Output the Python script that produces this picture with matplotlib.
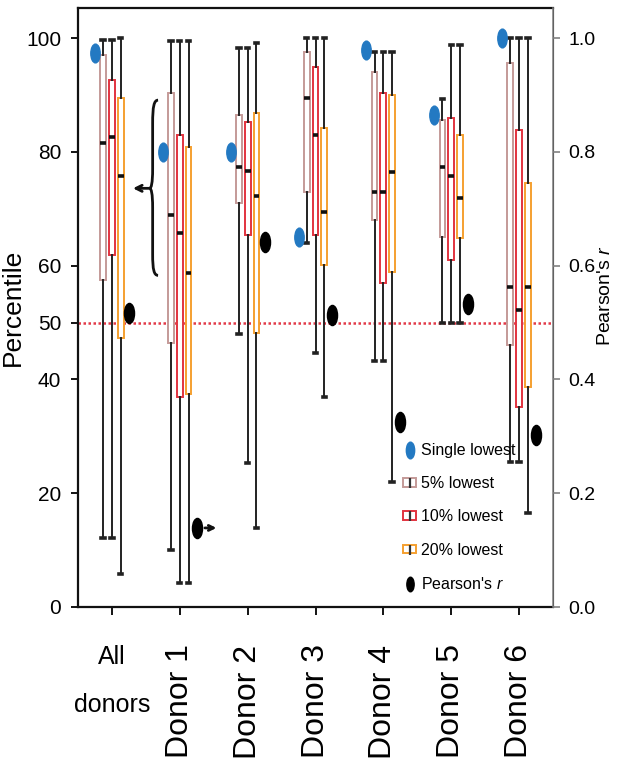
import numpy as np
import matplotlib
matplotlib.use("Agg")
import matplotlib.pyplot as plt
from matplotlib import font_manager
from matplotlib.path import Path
from matplotlib.patches import PathPatch, Patch
from matplotlib.lines import Line2D

# ---------------- data ----------------
groups = ["All\ndonors", "Donor 1", "Donor 2", "Donor 3", "Donor 4", "Donor 5", "Donor 6"]
single_lowest = [97.4, 80.0, 80.0, 65.0, 97.9, 86.5, 100.0]
pearson_r = [0.517, 0.139, 0.641, 0.513, 0.325, 0.533, 0.302]

p5_med = [81.5, 68.9, 77.3, 89.5, 72.9, 77.3, 56.2]
p5_q1 = [57.5, 46.4, 71.0, 72.9, 68.0, 65.0, 46.0]
p5_q3 = [97.0, 90.3, 86.5, 97.5, 94.0, 85.6, 95.6]
p5_lo = [12.1, 10.0, 48.0, 64.0, 43.2, 50.0, 25.5]
p5_hi = [99.6, 99.5, 98.2, 100.0, 97.5, 89.3, 100.0]

p10_med = [82.7, 65.7, 76.6, 83.0, 72.9, 75.8, 52.2]
p10_q1 = [61.9, 36.9, 65.4, 65.4, 56.9, 61.0, 35.1]
p10_q3 = [92.6, 83.0, 85.3, 94.9, 90.3, 85.9, 83.8]
p10_lo = [12.1, 4.2, 25.3, 44.6, 43.2, 50.0, 25.5]
p10_hi = [99.6, 99.5, 98.2, 100.0, 97.5, 98.8, 100.0]

p20_med = [75.8, 58.7, 72.2, 69.4, 76.5, 71.9, 56.2]
p20_q1 = [47.3, 37.4, 48.2, 60.1, 58.9, 64.8, 38.7]
p20_q3 = [89.4, 80.8, 86.8, 84.2, 90.0, 83.0, 74.5]
p20_lo = [5.8, 4.2, 13.9, 36.9, 22.0, 50.0, 16.5]
p20_hi = [100.0, 99.5, 99.1, 100.0, 97.5, 98.8, 100.0]

series_labels = ["5% lowest", "10% lowest", "20% lowest"]
y_ticks = [0, 20, 40, 50, 60, 80, 100]
r_ticks = [0.0, 0.2, 0.4, 0.6, 0.8, 1.0]
reference_line = 50

# ---------------- style ----------------
names = {f.name for f in font_manager.fontManager.ttflist}
fam = "Liberation Sans Narrow" if "Liberation Sans Narrow" in names else "Liberation Sans"
plt.rcParams["font.family"] = [fam, "DejaVu Sans"]
plt.rcParams["mathtext.fontset"] = "custom"
plt.rcParams["mathtext.rm"] = fam
plt.rcParams["mathtext.it"] = fam + ":italic"

c_blue = "#2379c2"
box_colors = ["#c49a98", "#e2333f", "#f5a030"]
c_red_line = "#e23a48"

circ = Path.unit_circle()
ellipse = Path(circ.vertices * np.array([0.5, 1.0]), circ.codes)

fig = plt.figure(figsize=(6.18, 7.68), dpi=100)
ax = fig.add_axes([78 / 618, 1 - 607 / 768, 475 / 618, 599 / 768])

pos = np.arange(len(groups))
ax.set_xlim(-0.5, 6.5)
ax.set_ylim(0, 105.3)

ax.axhline(reference_line, color=c_red_line, linestyle=(0, (1, 1)), lw=1.8, zorder=1)

series = [
    (p5_med, p5_q1, p5_q3, p5_lo, p5_hi),
    (p10_med, p10_q1, p10_q3, p10_lo, p10_hi),
    (p20_med, p20_q1, p20_q3, p20_lo, p20_hi),
]
offsets = [-0.13, 0.0, 0.13]
for (med, q1, q3, lo, hi), off, col in zip(series, offsets, box_colors):
    stats = [dict(med=m, q1=a, q3=b, whislo=l, whishi=h, fliers=[])
             for m, a, b, l, h in zip(med, q1, q3, lo, hi)]
    ax.bxp(stats, positions=pos + off, widths=0.085, showfliers=False,
           patch_artist=True, manage_ticks=False,
           boxprops=dict(facecolor="white", edgecolor=col, linewidth=1.4),
           whiskerprops=dict(color="#222222", lw=1.4),
           capprops=dict(color="#222222", lw=2.6),
           medianprops=dict(color="#111111", lw=2.6, solid_capstyle="butt"),
           capwidths=0.05, zorder=3)

ax.plot(pos - 0.25, single_lowest, linestyle="none", marker=ellipse,
        markersize=13.5, color=c_blue, zorder=4)

# brace + arrow annotation beside Donor 1
bx0, bx1, btip = 0.68, 0.60, 0.555
ytop, ymid, ybot = 89.1, 73.6, 58.3
verts = [(bx0, ytop), (0.62, ytop), (bx1, ytop - 1.1), (bx1, ytop - 4.1),
         (bx1, ymid + 3.4),
         (bx1, ymid + 0.9), (0.58, ymid), (btip, ymid),
         (0.58, ymid), (bx1, ymid - 0.9), (bx1, ymid - 3.4),
         (bx1, ybot + 3.7),
         (bx1, ybot + 1.0), (0.62, ybot), (bx0, ybot)]
codes = [Path.MOVETO, Path.CURVE4, Path.CURVE4, Path.CURVE4, Path.LINETO,
         Path.CURVE4, Path.CURVE4, Path.CURVE4,
         Path.CURVE4, Path.CURVE4, Path.CURVE4, Path.LINETO,
         Path.CURVE4, Path.CURVE4, Path.CURVE4]
ax.add_patch(PathPatch(Path(verts, codes), facecolor="none", edgecolor="#111111", lw=2.0, zorder=5))
ax.annotate("", xy=(0.31, ymid), xytext=(btip, ymid),
            arrowprops=dict(arrowstyle="->", lw=2.0, color="#111111",
                            mutation_scale=11, shrinkA=0, shrinkB=0), zorder=5)

ax.set_yticks(y_ticks)
ax.set_xticks(pos)
ax.set_xticklabels(groups)
for i, lab in enumerate(ax.get_xticklabels()):
    lab.set_va("top")
    lab.set_ha("center")
    if i == 0:
        lab.set_fontsize(18)
        lab.set_rotation(0)
        lab.set_multialignment("center")
        lab.set_linespacing(2.3)
    else:
        lab.set_rotation(90)
        lab.set_fontsize(23)

ax.tick_params(axis="y", direction="out", length=5, width=1.3, labelsize=15, pad=7)
ax.tick_params(axis="x", direction="out", length=6, width=1.3, pad=21)
ax.set_ylabel("Percentile", fontsize=19)
ax.yaxis.set_label_coords(-0.112, 0.5)
for s in ["top", "left", "bottom"]:
    ax.spines[s].set_linewidth(1.6)
    ax.spines[s].set_color("#111111")

ax2 = ax.twinx()
ax2.set_ylim(0, 1.053)
ax2.set_yticks(r_ticks)
ax2.set_yticklabels([f"{t:.1f}" for t in r_ticks])
ax2.tick_params(axis="y", direction="out", length=5, width=1.1, labelsize=14, pad=6,
                color="#777777")
ax2.spines["right"].set_color("#808080")
ax2.spines["right"].set_linewidth(1.1)
for s in ["top", "left", "bottom"]:
    ax2.spines[s].set_visible(False)
ax2.set_ylabel("Pearson's $r$", fontsize=14)
ax2.yaxis.set_label_coords(1.092, 0.52)

ax2.plot(pos + 0.25, pearson_r, linestyle="none", marker=ellipse,
         markersize=14.5, color="black", zorder=4)
ax2.annotate("", xy=(1.54, pearson_r[1]), xytext=(1.37, pearson_r[1]),
             arrowprops=dict(arrowstyle="->", lw=2.0, color="#111111",
                             mutation_scale=9, shrinkA=0, shrinkB=0))

# legend
h_single = Line2D([], [], linestyle="none", marker=ellipse, markersize=12, color=c_blue)
h_boxes = []
for col in box_colors:
    p = Patch(facecolor="white", edgecolor=col, linewidth=1.4)
    m = Line2D([], [], linestyle="none", marker="|", markersize=7, markeredgewidth=1.6,
               color="#333333")
    h_boxes.append((p, m))
h_r = Line2D([], [], linestyle="none", marker=ellipse, markersize=10.5, color="black")
leg = ax2.legend([h_single] + h_boxes + [h_r],
                 ["Single lowest"] + series_labels + ["Pearson's $r$"],
                 loc="lower left", bbox_to_anchor=(0.685, 0.025), frameon=False,
                 fontsize=11.5, handlelength=0.8, handleheight=0.45, handletextpad=0.3,
                 labelspacing=1.15, borderpad=0.0, borderaxespad=0.0)

fig.savefig("out.png", dpi=100)
